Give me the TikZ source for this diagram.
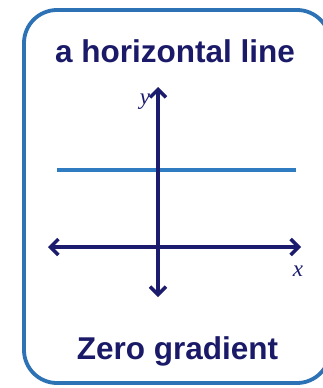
\documentclass[tikz,border=0pt]{standalone}
\usepackage{fontspec}
\setmainfont{Liberation Sans}
\newfontfamily\labfont{Liberation Serif}
\usetikzlibrary{arrows.meta}
\definecolor{navytext}{HTML}{1A1A68}
\definecolor{axisnavy}{HTML}{1C1C6E}
\definecolor{boxblue}{HTML}{2C72B4}
\definecolor{lineblue}{HTML}{2F7CC2}
\tikzset{
  titletext/.style={font=\fontsize{31.5}{36}\selectfont\bfseries, text=navytext, anchor=base, inner sep=0pt},
  axislabel/.style={font=\labfont\itshape\fontsize{23}{26}\selectfont, text=axisnavy, inner sep=0pt},
  axisline/.style={draw=axisnavy, line width=3.4pt, {Straight Barb[length=8pt,width=16pt,line width=3.4pt]}-{Straight Barb[length=8pt,width=16pt,line width=3.4pt]}},
  frame/.style={draw=boxblue, line width=3.8pt, rounded corners=33pt},
  levelline/.style={draw=lineblue, line width=3.2pt}
}
\begin{document}
\begin{tikzpicture}[x=1pt,y=-1pt]
\useasboundingbox (0,0) rectangle (323,388);
\fill[white] (0,0) rectangle (323,388);
\draw[frame] (24,10) rectangle (330,383);
\node[titletext] (title) at (175,62) {a horizontal line};
\node[titletext] (foot) at (177.5,359) {Zero gradient};
\coordinate (ytop) at (158,87);
\coordinate (ybot) at (158,297);
\coordinate (xleft) at (48,247);
\coordinate (xright) at (301,247);
\coordinate (hl) at (57,170);
\coordinate (hr) at (296,170);
\draw[levelline] (hl) -- (hr);
\draw[axisline] (xleft) -- (xright);
\draw[axisline] (ybot) -- (ytop);
\node[axislabel] (ylab) at (145,102) {y};
\node[axislabel] (xlab) at (298,271) {x};
\end{tikzpicture}
\end{document}
